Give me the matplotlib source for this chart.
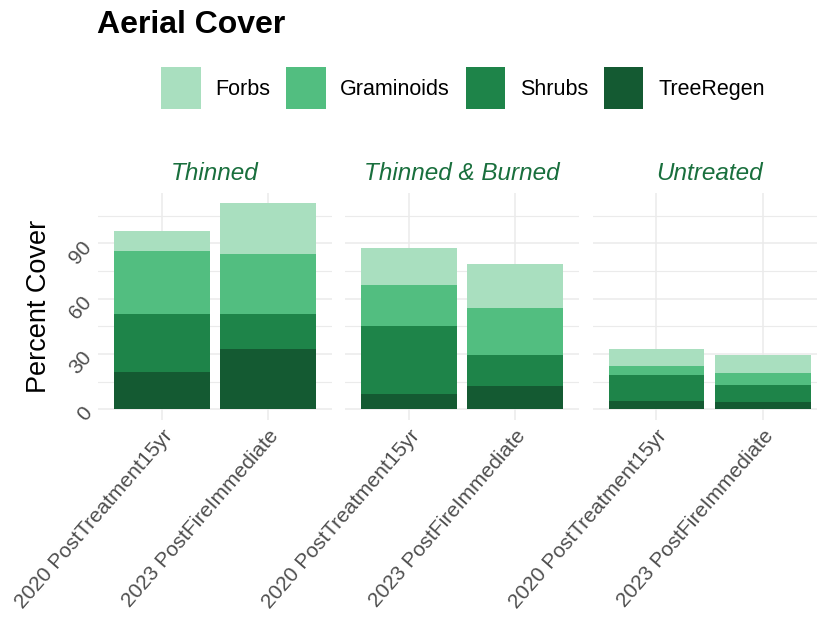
import matplotlib
matplotlib.use("Agg")
import matplotlib.pyplot as plt
from matplotlib.patches import Patch
import numpy as np

# ---- data ----
treatments = ["Thinned", "Thinned & Burned", "Untreated"]
periods = ["2020 PostTreatment15yr", "2023 PostFireImmediate"]
groups = ["Forbs", "Graminoids", "Shrubs", "TreeRegen"]
# values per treatment: [period1, period2]
treeregen = {"Thinned": [20.0, 32.9], "Thinned & Burned": [8.3, 12.8], "Untreated": [4.7, 4.1]}
shrubs = {"Thinned": [31.7, 18.8], "Thinned & Burned": [37.0, 16.8], "Untreated": [13.7, 9.2]}
graminoids = {"Thinned": [34.1, 32.3], "Thinned & Burned": [22.1, 25.2], "Untreated": [5.3, 6.2]}
forbs = {"Thinned": [10.9, 27.9], "Thinned & Burned": [19.9, 24.0], "Untreated": [9.2, 9.9]}
y_ticks = [0, 30, 60, 90]

colors = {"Forbs": "#A9DFBF", "Graminoids": "#52BE80", "Shrubs": "#1E8449", "TreeRegen": "#145A32"}
series = {"TreeRegen": treeregen, "Shrubs": shrubs, "Graminoids": graminoids, "Forbs": forbs}
stack_order = ["TreeRegen", "Shrubs", "Graminoids", "Forbs"]

plt.rcParams['font.family'] = ['Liberation Sans', 'DejaVu Sans']

W, H = 817, 625
fig = plt.figure(figsize=(W / 100, H / 100), dpi=100)

totals = [sum(series[g][t][i] for g in groups) for t in treatments for i in range(2)]
ymax = max(totals)
ylo, yhi = -0.05 * ymax, 1.05 * ymax

panel_left = [98, 345, 592.6]
panel_w = 234
top_px, bot_px = 192.6, 419.6

x = np.arange(len(periods))
for k, t in enumerate(treatments):
    ax = fig.add_axes([panel_left[k] / W, 1 - bot_px / H, panel_w / W, (bot_px - top_px) / H])
    bottom = np.zeros(len(periods))
    for g in stack_order:
        vals = np.array(series[g][t])
        ax.bar(x, vals, width=0.9, bottom=bottom, color=colors[g], linewidth=0, zorder=3)
        bottom += vals
    ax.set_xlim(-0.6, len(periods) - 1 + 0.6)
    ax.set_ylim(ylo, yhi)
    ax.set_yticks(y_ticks)
    ax.set_yticks([15, 45, 75, 105], minor=True)
    ax.set_xticks(x)
    ax.set_xticklabels(periods, rotation=49, ha='right', va='top', rotation_mode='anchor',
                       fontsize=15, color='#4D4D4D')
    ax.grid(True, which='major', color='#EBEBEB', linewidth=1.1, zorder=0)
    ax.grid(True, which='minor', axis='y', color='#EBEBEB', linewidth=0.8, zorder=0)
    ax.tick_params(axis='both', which='both', length=0)
    ax.tick_params(axis='x', pad=5)
    if k == 0:
        ax.set_yticklabels([str(v) for v in y_ticks], rotation=49, ha='right', va='center',
                           rotation_mode='anchor', fontsize=15, color='#4D4D4D')
        ax.tick_params(axis='y', pad=7)
        ax.set_ylabel("Percent Cover", fontsize=19.5, color='black', labelpad=10)
    else:
        ax.set_yticklabels([])
    for s in ax.spines.values():
        s.set_visible(False)
    ax.set_facecolor('white')
    ax.set_title(t, fontsize=17.5, style='italic', color='#196F3D', pad=9)

fig.text(97 / W, 1 - 25 / H, "Aerial Cover", fontsize=23, fontweight='bold', ha='left', va='center')

handles = [Patch(facecolor=colors[g], edgecolor='none') for g in groups]
leg = fig.legend(handles, groups, loc='center', bbox_to_anchor=(463 / W, 1 - 88 / H),
                 ncol=4, frameon=False, fontsize=15.5, handlelength=1.82, handleheight=2.6,
                 handletextpad=0.68, columnspacing=0.75, borderaxespad=0)

fig.savefig("out.png", dpi=100, facecolor='white')
